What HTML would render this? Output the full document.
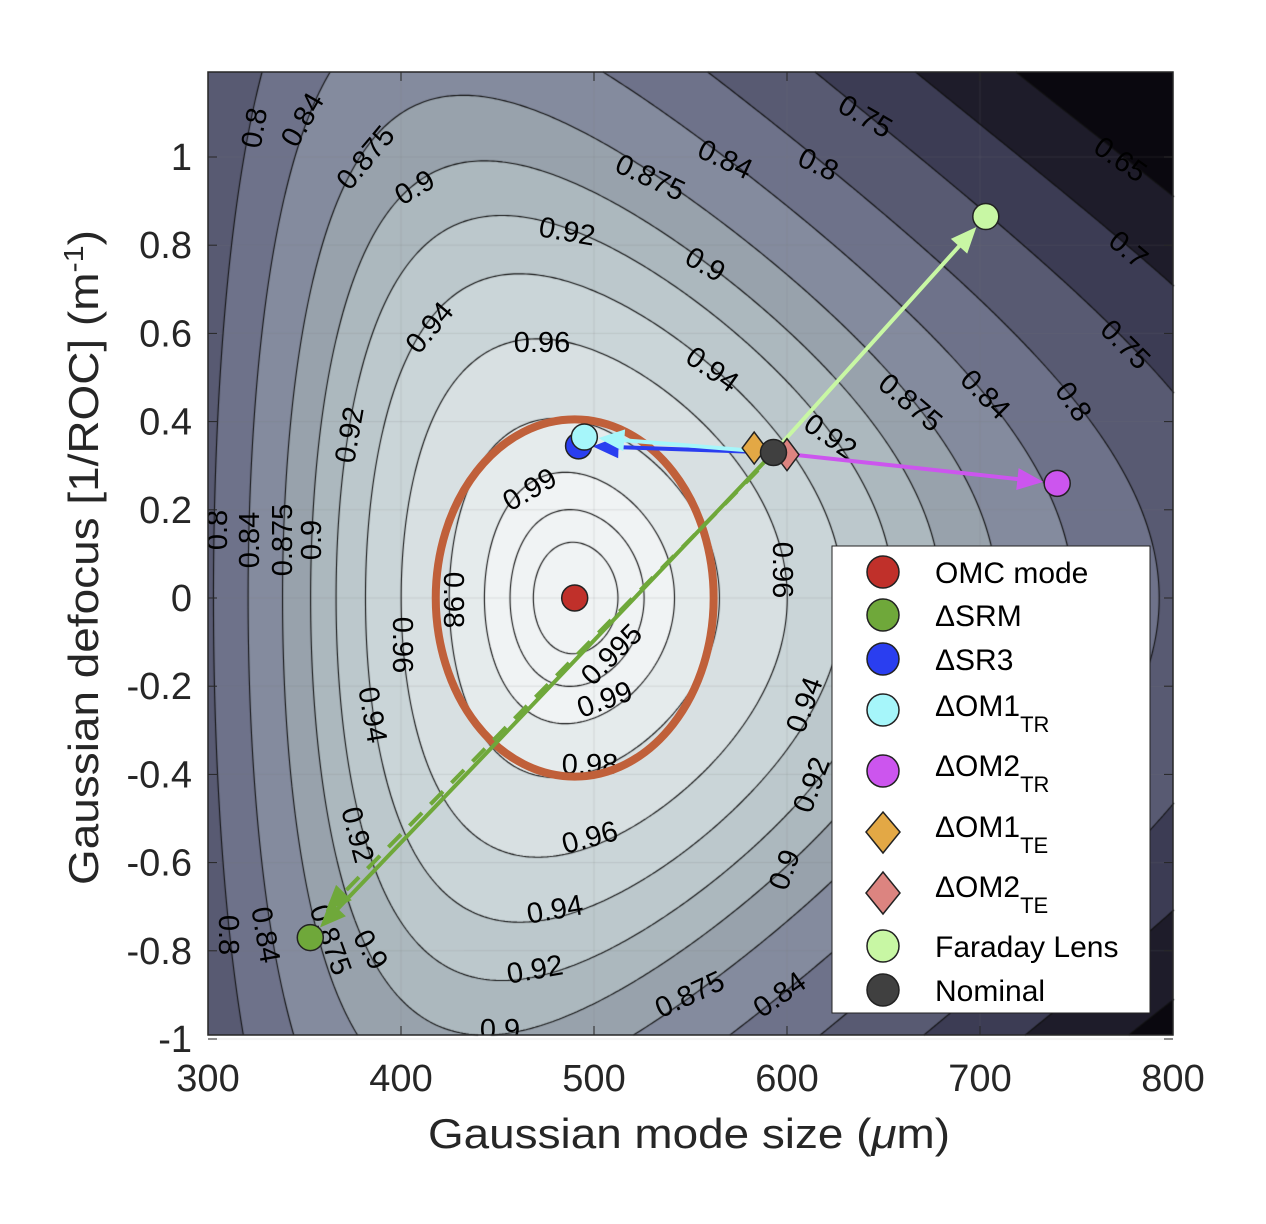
<!DOCTYPE html>
<html><head><meta charset="utf-8"><style>
html,body{margin:0;padding:0;background:#fff;width:1266px;height:1224px;overflow:hidden}
#wrap{position:relative;width:1266px;height:1224px}
canvas,svg{position:absolute;left:0;top:0}
text{font-family:"Liberation Sans",sans-serif}
</style></head><body>
<div id="wrap">
<canvas id="cv" width="1266" height="1224"></canvas>
<svg id="sv" width="1266" height="1224"></svg>
</div>
<script>
// ---- data ----
const omcWaist = [490];          // µm
const omcDefocus = [0];          // 1/m
const wavelength = [1.064];      // µm
const levels = [0.65,0.7,0.75,0.8,0.84,0.875,0.9,0.92,0.94,0.96,0.98,0.99,0.995,0.998];
const xTicks = [300,400,500,600,700,800];
const yTicks = [1,0.8,0.6,0.4,0.2,0,-0.2,-0.4,-0.6,-0.8,-1];
const seriesNames = ["OMC mode","\u0394SRM","\u0394SR3","\u0394OM1","\u0394OM2","\u0394OM1","\u0394OM2","Faraday Lens","Nominal"];
const seriesSubs = ["","","","TR","TR","TE","TE","",""];
const seriesX = [490,353,492,495,740,583,600,703,593];
const seriesY = [0,-0.77,0.345,0.365,0.26,0.34,0.325,0.865,0.33];
const seriesColor = ["#c0302a","#6fa83a","#2a3ef0","#a6f6fa","#cc55ee","#e3a845","#dc8480","#c8f7a4","#404040"];
const seriesShape = ["o","o","o","o","o","d","d","o","o"];
const arrowTargets = [1,2,3,4,7];
const nominalIdx = 8;
const ellipseRx = [72];
const ellipseRy = [0.405];
const labelText = ["0.8","0.84","0.875","0.9","0.92","0.94","0.96","0.875","0.84","0.8","0.75","0.9","0.94","0.875","0.84","0.8","0.65","0.7","0.75","0.92","0.8","0.84","0.875","0.9","0.92","0.99","0.995","0.99","0.96","0.94","0.92","0.9","0.875","0.84","0.96","0.94","0.92","0.9","0.96","0.94","0.92","0.9","0.875","0.84","0.8","0.98","0.98"];
const labelPX = [255,303,366,415,567,430,542,650,725,818,865,705,712,910,985,1073,1120,1128,1125,830,218,250,283,312,350,530,612,605,590,555,535,500,690,780,782,805,812,785,402,372,357,370,330,265,228,453,590];
const labelPY = [128,120,158,188,232,328,343,178,160,165,117,265,370,403,395,402,160,250,345,437,530,540,540,540,435,490,655,700,838,910,970,1030,995,995,570,705,785,870,645,715,835,950,940,935,935,600,765];
const labelX = labelPX.map(px=>300+(px-208)/1.93);
const labelY = labelPY.map(py=>(598-py)/441);
const labelRot = [-80,-60,-50,-30,10,-50,0,25,25,25,30,30,35,40,45,55,35,40,45,35,-90,-90,-90,-90,-80,-30,-45,-20,-15,-10,-10,0,-25,-35,90,-70,-70,-70,90,80,75,60,70,80,90,90,0];
// ---- axes ----
const X0=208,X1=1173,Y0=72,Y1=1035;
const X=v=>X0+(v-300)*(X1-X0)/500;
const Y=v=>598-v*441;
const Xi=p=>300+(p-X0)*500/(X1-X0);
const Yi=p=>(598-p)/441;
function overlap(w,d){
  const w0=omcWaist[0], d0=omcDefocus[0], lam=wavelength[0];
  const a=w/w0+w0/w;
  const b=Math.PI*w*w0/lam*1e-6*(d-d0);
  return 4/(a*a+b*b);
}
const stops=[[0.6,[10,8,15]],[0.65,[30,28,42]],[0.7,[60,60,84]],[0.75,[88,90,114]],[0.8,[110,114,138]],[0.84,[132,139,158]],[0.875,[152,162,172]],[0.9,[172,184,190]],[0.92,[188,200,204]],[0.94,[202,213,216]],[0.96,[216,224,226]],[0.98,[229,235,236]],[0.99,[240,243,244]],[1,[248,250,250]]];
function col(v){
  let lv=-1; for(const l of levels) if(v>=l) lv=l;
  const t=lv<0?0.6:lv;
  for(let i=stops.length-1;i>=0;i--) if(t>=stops[i][0]) return stops[i][1];
  return stops[0][1];
}
const cv=document.getElementById('cv'),ctx=cv.getContext('2d');
const W=X1-X0,H=Y1-Y0;
const img=ctx.createImageData(W,H);
for(let j=0;j<H;j++)for(let i=0;i<W;i++){
  const c=col(overlap(Xi(X0+i+0.5),Yi(Y0+j+0.5)));const k=(j*W+i)*4;
  img.data[k]=c[0];img.data[k+1]=c[1];img.data[k+2]=c[2];img.data[k+3]=255;}
ctx.putImageData(img,X0,Y0);
ctx.strokeStyle='rgba(120,120,120,0.18)';ctx.lineWidth=1;
xTicks.forEach(t=>{ctx.beginPath();ctx.moveTo(X(t),Y0);ctx.lineTo(X(t),Y1);ctx.stroke();});
yTicks.forEach(t=>{ctx.beginPath();ctx.moveTo(X0,Y(t));ctx.lineTo(X1,Y(t));ctx.stroke();});
const S=3,nx=Math.ceil(W/S)+1,ny=Math.ceil(H/S)+1;
const G=[];for(let j=0;j<ny;j++){G[j]=[];for(let i=0;i<nx;i++)G[j][i]=overlap(Xi(X0+i*S),Yi(Y0+j*S));}
ctx.strokeStyle='#111';ctx.lineWidth=1.1;ctx.beginPath();
for(const L of levels){
  for(let j=0;j<ny-1;j++)for(let i=0;i<nx-1;i++){
    const a=G[j][i],b=G[j][i+1],c=G[j+1][i+1],d=G[j+1][i];
    const pts=[];
    const e=(p,q,x1,y1,x2,y2)=>{if((p<L)!==(q<L)){const t=(L-p)/(q-p);pts.push([x1+(x2-x1)*t,y1+(y2-y1)*t]);}};
    const x=X0+i*S,y=Y0+j*S;
    e(a,b,x,y,x+S,y);e(b,c,x+S,y,x+S,y+S);e(d,c,x,y+S,x+S,y+S);e(a,d,x,y,x,y+S);
    for(let k=0;k+1<pts.length;k+=2){ctx.moveTo(pts[k][0],pts[k][1]);ctx.lineTo(pts[k+1][0],pts[k+1][1]);}
  }
}
ctx.stroke();
// ---- svg overlay ----
const NS='http://www.w3.org/2000/svg',sv=document.getElementById('sv');
function mk(tag,attrs,parent){const e=document.createElementNS(NS,tag);for(const k in attrs)e.setAttribute(k,attrs[k]);(parent||sv).appendChild(e);return e;}
const defs=mk('defs',{});
const clip=mk('clipPath',{id:'pc'},defs);mk('rect',{x:X0,y:Y0,width:W,height:H},clip);
const lg=mk('g',{'clip-path':'url(#pc)'});


labelText.forEach((t,i)=>{const x=X(labelX[i]),y=Y(labelY[i]);
  const el=mk('text',{x:x,y:y,'font-size':29,fill:'#000','text-anchor':'middle','dominant-baseline':'central',transform:`rotate(${labelRot[i]} ${x} ${y})`},lg);
  el.textContent=t;
  
  });
const el=mk('ellipse',{cx:X(omcWaist[0]),cy:Y(omcDefocus[0]),rx:X(300+ellipseRx[0])-X(300),ry:Y(0)-Y(ellipseRy[0]),fill:'none',stroke:'#c0603a','stroke-width':8});


function arrow(x1,y1,x2,y2,color,dash,name){
  const dx=x2-x1,dy=y2-y1,len=Math.hypot(dx,dy),ux=dx/len,uy=dy/len,hl=26,hw=11;
  const g=mk('g',{});
  
  
  mk('line',{x1:x1,y1:y1,x2:x2-ux*hl*0.8,y2:y2-uy*hl*0.8,stroke:color,'stroke-width':4,'stroke-dasharray':dash||''},g);
  const bx=x2-ux*hl,by=y2-uy*hl;
  mk('polygon',{points:`${x2},${y2} ${bx-uy*hw},${by+ux*hw} ${bx+uy*hw},${by-ux*hw}`,fill:color},g);
}
const nx0=X(seriesX[nominalIdx]),ny0=Y(seriesY[nominalIdx]);
arrowTargets.forEach(k=>{const tx=X(seriesX[k]),ty=Y(seriesY[k]),d=Math.hypot(tx-nx0,ty-ny0);
  arrow(nx0,ny0,tx-(tx-nx0)/d*14,ty-(ty-ny0)/d*14,seriesColor[k],'', 'arrow-'+seriesNames[k].replace('\u0394','delta-').replace(/\s/g,'-').toLowerCase());});
arrow(X(seriesX[nominalIdx]-8),Y(seriesY[nominalIdx]-0.04),X(seriesX[1]+8),Y(seriesY[1]+0.06),'#6fa83a','18 12','arrow-srm-dashed');
function marker(shape,x,y,color,g){
  if(shape==='d') return mk('polygon',{points:`${x},${y-16} ${x+12},${y} ${x},${y+16} ${x-12},${y}`,fill:color,stroke:'#222','stroke-width':1.5},g);
  return mk('circle',{cx:x,cy:y,r:13,fill:color,stroke:'#222','stroke-width':1.5},g);
}
const order=[0,1,4,7,5,6,2,3,8];
order.forEach(k=>{const m=marker(seriesShape[k],X(seriesX[k]),Y(seriesY[k]),seriesColor[k]);
  
  });
const box=mk('rect',{x:X0,y:Y0,width:W,height:H,fill:'none',stroke:'#262626','stroke-width':1.5});


xTicks.forEach(t=>{mk('line',{x1:X(t),y1:Y1,x2:X(t),y2:Y1-9,stroke:'#262626'});mk('line',{x1:X(t),y1:Y0,x2:X(t),y2:Y0+9,stroke:'#262626'});
  const tx=mk('text',{x:X(t),y:1091,'font-size':38,'text-anchor':'middle',fill:'#262626'});tx.textContent=t;
  
  });
yTicks.forEach(t=>{mk('line',{x1:X0,y1:Y(t),x2:X0+9,y2:Y(t),stroke:'#262626'});mk('line',{x1:X1,y1:Y(t),x2:X1-9,y2:Y(t),stroke:'#262626'});
  const ty=mk('text',{x:192,y:Y(t)+13,'font-size':38,'text-anchor':'end',fill:'#262626'});ty.textContent=t;
  
  });
</script>
<svg width="1266" height="1224" style="position:absolute;left:0;top:0">
<text x="428" y="1148" font-size="42" textLength="522" lengthAdjust="spacingAndGlyphs" fill="#262626">Gaussian mode size (<tspan font-style="italic">μ</tspan>m)</text>
<text transform="translate(98,885) rotate(-90)" font-size="42" textLength="655" lengthAdjust="spacingAndGlyphs" fill="#262626">Gaussian defocus [1/ROC] (m<tspan dy="-15" font-size="28">-1</tspan><tspan dy="15">)</tspan></text>
<g font-size="30" fill="#000">
<rect x="832" y="546" width="318" height="467" fill="#fff" stroke="#222" stroke-width="1"/>
<circle cx="883" cy="572" r="16" fill="#c0302a" stroke="#222" stroke-width="1.5"/><text x="935" y="583">OMC mode</text>
<circle cx="883" cy="615" r="16" fill="#6fa83a" stroke="#222" stroke-width="1.5"/><text x="935" y="626">ΔSRM</text>
<circle cx="883" cy="659" r="16" fill="#2a3ef0" stroke="#222" stroke-width="1.5"/><text x="935" y="670">ΔSR3</text>
<circle cx="883" cy="710" r="16" fill="#a6f6fa" stroke="#222" stroke-width="1.5"/><text x="935" y="716">ΔOM1<tspan font-size="22" dy="16">TR</tspan></text>
<circle cx="883" cy="771" r="16" fill="#cc55ee" stroke="#222" stroke-width="1.5"/><text x="935" y="776">ΔOM2<tspan font-size="22" dy="16">TR</tspan></text>
<polygon points="883,812 900,832 883,853 866,832" fill="#e3a845" stroke="#222" stroke-width="1.5"/><text x="935" y="837">ΔOM1<tspan font-size="22" dy="16">TE</tspan></text>
<polygon points="883,872 900,893 883,914 866,893" fill="#dc8480" stroke="#222" stroke-width="1.5"/><text x="935" y="897">ΔOM2<tspan font-size="22" dy="16">TE</tspan></text>
<circle cx="883" cy="946" r="16" fill="#c8f7a4" stroke="#222" stroke-width="1.5"/><text x="935" y="957">Faraday Lens</text>
<circle cx="883" cy="990" r="16" fill="#404040" stroke="#222" stroke-width="1.5"/><text x="935" y="1001">Nominal</text>
</g>
</svg>
</body></html>
